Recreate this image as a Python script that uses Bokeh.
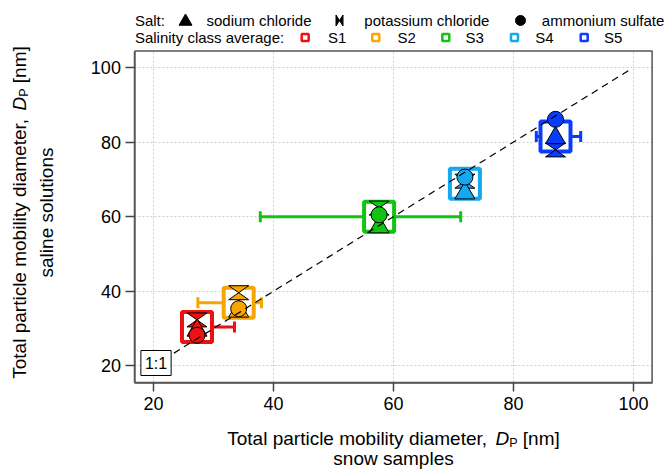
import math
from bokeh.plotting import figure
from bokeh.models import Range1d, Label
from bokeh.core.properties import value
from bokeh.embed import file_html
from bokeh.resources import INLINE

# ---------------- data ----------------
classes = ["S1", "S2", "S3", "S4", "S5"]
snow_dp = [27.25, 34.2, 57.6, 71.9, 87.0]          # class average, snow samples (x)
snow_dp_low = [25.6, 27.4, 37.8, 70.6, 83.8]       # error bar lower end (x)
snow_dp_high = [33.5, 38.0, 71.2, 73.2, 91.2]      # error bar upper end (x)
class_avg_dp = [30.4, 36.9, 60.0, 68.8, 81.5]      # class average, saline solutions (y)
sodium_chloride = [29.5, 34.6, 57.2, 66.3, 81.1]
potassium_chloride = [32.3, 39.6, 62.3, 69.5, 77.9]
ammonium_sulfate = [28.2, 35.3, 60.5, 70.6, 86.1]
one_to_one = [20, 99.5]
x_ticks = [20, 40, 60, 80, 100]
y_ticks = [20, 40, 60, 80, 100]
salt_names = ["sodium chloride", "potassium chloride", "ammonium sulfate"]

# ---------------- styles / layout ----------------
colors = ["#ee1111", "#f7a600", "#11c411", "#14a8f0", "#0a3cff"]
FONT = "Liberation Sans"
W, H = 668, 469
PXX, PXY = 6.0, 3.729            # pixels per data unit
X20, Y20 = 153.0, 365.3          # pixel position of the value 20 on each axis
X0, X1 = 16.9, 103.1             # plot box (data units)
Y0, Y1 = 15.4, 104.4


def px2x(px):
    return 20 + (px - X20) / PXX


def py2y(py):
    return 20 + (Y20 - py) / PXY


p = figure(width=W, height=H, x_range=Range1d(px2x(0), px2x(W)), y_range=Range1d(py2y(H), py2y(0)),
           output_backend="svg", toolbar_location=None, min_border=0)
p.background_fill_color = "white"
p.border_fill_color = "white"
p.outline_line_color = None

for ax in (p.xaxis[0], p.yaxis[0]):
    ax.major_label_text_font = FONT
    ax.major_label_text_font_size = "18px"
    ax.major_label_text_color = "black"
    ax.major_tick_in = 0
    ax.major_tick_out = 9
    ax.minor_tick_in = 0
    ax.minor_tick_out = 0
    ax.major_tick_line_color = "#444444"
    ax.major_tick_line_width = 1.5
    ax.axis_line_color = "#555555"
    ax.axis_line_width = 1.5
    ax.major_label_standoff = 5
p.xaxis.ticker = x_ticks
p.yaxis.ticker = y_ticks
p.xaxis.fixed_location = Y0
p.yaxis.fixed_location = X0
p.xaxis.bounds = (X0, X1)
p.yaxis.bounds = (Y0, Y1)

grid_ok = True
try:
    p.xgrid[0].cross_bounds = (Y0, Y1)
    p.ygrid[0].cross_bounds = (X0, X1)
except Exception:
    grid_ok = False
if grid_ok:
    for g in (p.xgrid[0], p.ygrid[0]):
        g.grid_line_color = "#cfcfcf"
        g.grid_line_dash = "2 2"
        g.grid_line_width = 1
    p.xgrid.ticker = x_ticks
    p.ygrid.ticker = y_ticks
else:
    p.grid.visible = False
    p.segment(x0=x_ticks, y0=[Y0] * len(x_ticks), x1=x_ticks, y1=[Y1] * len(x_ticks),
              line_color="#cfcfcf", line_dash="2 2", line_width=1)
    p.segment(x0=[X0] * len(y_ticks), y0=y_ticks, x1=[X1] * len(y_ticks), y1=y_ticks,
              line_color="#cfcfcf", line_dash="2 2", line_width=1)

# plot box (top / right edges; left / bottom come from the axes)
p.quad(left=[X0], right=[X1], bottom=[Y0], top=[Y1], fill_color=None,
       line_color="#555555", line_width=1.5)

# error bars
p.segment(x0=snow_dp_low, y0=class_avg_dp, x1=snow_dp_high, y1=class_avg_dp,
          line_color=colors, line_width=3)
for xs_ in (snow_dp_low, snow_dp_high):
    p.rect(x=xs_, y=class_avg_dp, width=3, height=11, width_units="screen",
           height_units="screen", fill_color=colors, line_color=None)

# class average boxes
p.scatter(x=snow_dp, y=class_avg_dp, marker="square", size=30, fill_color="white",
          line_color=colors, line_width=4)

# potassium chloride: hourglass
hw, hh = 10 / PXX, 7 / PXY
hx = [[x - hw, x + hw, x - hw, x + hw] for x in snow_dp]
hy = [[y + hh, y + hh, y - hh, y - hh] for y in potassium_chloride]
p.patches(xs=hx, ys=hy, fill_color=colors, line_color="black", line_width=1)

# sodium chloride: triangle
p.scatter(x=snow_dp, y=sodium_chloride, marker="triangle", size=20,
          fill_color=colors, line_color="black", line_width=1)
# ammonium sulfate: circle
p.scatter(x=snow_dp, y=ammonium_sulfate, marker="circle", size=16,
          fill_color=colors, line_color="black", line_width=1)

# 1:1 line
p.line(x=one_to_one, y=one_to_one, line_color="black", line_width=1.2, line_dash="7 5")

p.add_layout(Label(x=px2x(155.5), y=py2y(362.5), text="1:1", text_align="center",
                   text_baseline="middle", text_font=FONT, text_font_size="16px",
                   text_color="black", background_fill_color="white",
                   border_line_color="black", border_line_width=1, padding=4))

# ---------------- rich axis labels ----------------
WID = {' ': 278, ',': 278, '[': 278, ']': 278, ':': 278, 'T': 611, 'D': 722, 'P': 667,
       'a': 556, 'b': 556, 'c': 500, 'd': 556, 'e': 556, 'i': 222, 'l': 222, 'm': 833,
       'n': 556, 'o': 556, 'p': 556, 'r': 333, 's': 500, 't': 278, 'u': 556, 'v': 500,
       'w': 722, 'y': 500, 'g': 556, 'h': 556, 'f': 278, 'k': 500, 'x': 500}


def tw(s, size):
    return sum(WID.get(c, 556) for c in s) / 1000.0 * size


def rich(pieces, cx, cy, vertical):
    """cx, cy: canvas pixels (baseline position; centre along the text)."""
    total = sum(tw(t, s) for t, _, s, _ in pieces)
    pos = -total / 2.0
    for t, style, size, drop in pieces:
        w = tw(t, size)
        if t.strip():
            if vertical:
                x, y, ang = px2x(cx + drop), py2y(cy - pos), math.pi / 2
            else:
                x, y, ang = px2x(cx + pos), py2y(cy + drop), 0
            p.text(x=[x], y=[y], text=[t], angle=ang, text_align="left",
                   text_baseline="alphabetic", text_font=value(FONT),
                   text_font_size=value(f"{size}px"), text_font_style=value(style),
                   text_color="black")
        pos += w


LS = 19
SUB = 12.5
label_pieces = [("Total particle mobility diameter,", "normal", LS, 0), (" ", "normal", LS, 0),
                ("D", "italic", LS, 0), ("P", "normal", SUB, 4), (" ", "normal", LS, 0),
                ("[nm]", "normal", LS, 0)]
rich(label_pieces, 393, 438, False)
rich([("snow samples", "normal", LS, 0)], 393, 458, False)
rich(label_pieces, 19, 212, True)
rich([("saline solutions", "normal", LS, 0)], 46, 212, True)

# ---------------- legend (above the plot box) ----------------
R1, R2 = 20, 37
tfont = dict(text_font=value(FONT), text_font_size=value("15px"), text_color="black",
             text_baseline="middle", text_align="left")
p.text(x=[px2x(v) for v in (134.4, 206, 363.8, 541.3)], y=[py2y(R1)] * 4,
       text=["Salt:"] + salt_names, **tfont)
p.scatter(x=[px2x(185)], y=[py2y(R1 + 1)], marker="triangle", size=13,
          fill_color="black", line_color="black")
bx, by, bw, bh = 339, R1, 3.5, 5.5
p.patches(xs=[[px2x(bx - bw), px2x(bx - bw), px2x(bx + bw), px2x(bx + bw)]],
          ys=[[py2y(by - bh), py2y(by + bh), py2y(by - bh), py2y(by + bh)]],
          fill_color="black", line_color="black")
p.scatter(x=[px2x(520)], y=[py2y(R1)], marker="circle", size=10,
          fill_color="black", line_color="black")

p.text(x=[px2x(134.4)], y=[py2y(R2)], text=["Salinity class average:"], **tfont)
sq_px = [304.7, 375.3, 445.3, 514.0, 583.7]
lab_px = [327.5, 397.0, 465.0, 534.8, 603.6]
p.scatter(x=[px2x(v) for v in sq_px], y=[py2y(R2)] * 5, marker="square", size=7,
          fill_color="white", line_color=colors, line_width=2.5)
p.text(x=[px2x(v) for v in lab_px], y=[py2y(R2)] * 5, text=classes, **tfont)

open("out.html", "w").write(file_html(p, INLINE))
